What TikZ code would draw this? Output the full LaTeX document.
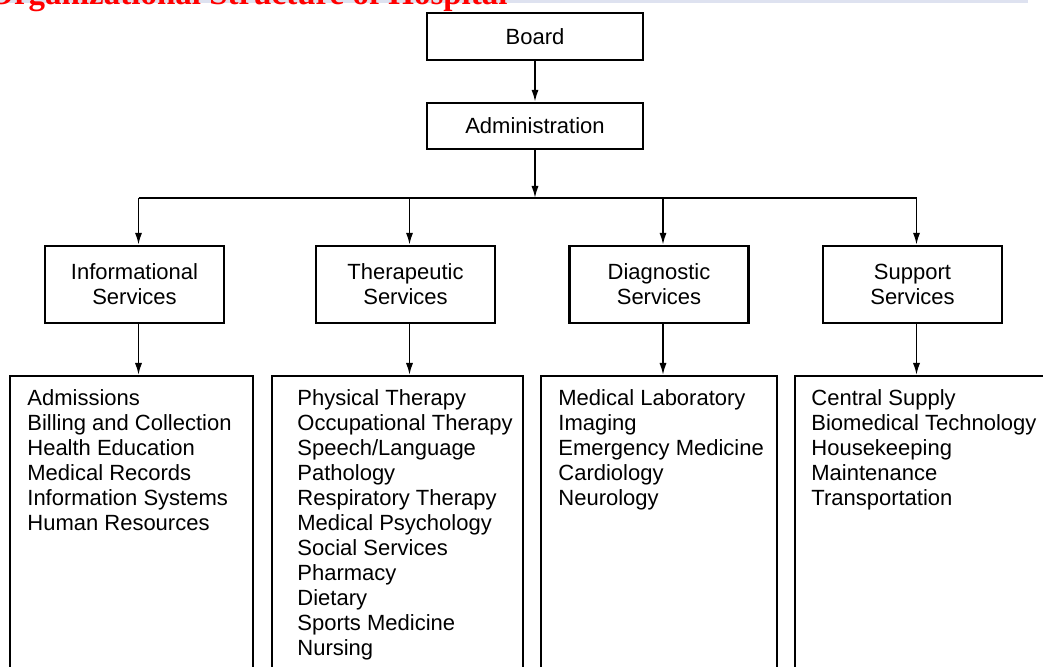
\documentclass[tikz,border=0pt]{standalone}
\usepackage{fontspec}
\setmainfont{Liberation Sans}
\newfontfamily\titlefont{Liberation Serif}
\usetikzlibrary{arrows.meta}
\definecolor{rulecolor}{RGB}{222,226,240}

\begin{document}
\begin{tikzpicture}
  [x=0.5pt,y=-0.5pt,
   box/.style={draw=black,line width=1.2pt,align=center,inner sep=0pt,font=\fontsize{11}{12.5}\selectfont},
   svc/.style={box,minimum width=89.5pt,minimum height=38.5pt},
   listbox/.style={draw=black,line width=1.2pt,anchor=north,minimum height=170pt,inner sep=0pt},
   items/.style={anchor=north west,align=left,inner sep=0pt,font=\fontsize{11}{12.5}\selectfont}]
  \useasboundingbox (0,0) rectangle (1043,667);
  \draw[line width=1.5pt,rulecolor] (0,2) -- (1028,2);
  \node[anchor=base west,inner sep=0pt,text=red,font=\titlefont\bfseries\fontsize{16.5}{18}\selectfont] (title) at (-12,5) {Organizational Structure of Hospital};

  \node[box,minimum width=108pt,minimum height=23.5pt] (board) at (535,36.5) {Board};
  \node[box,minimum width=108pt,minimum height=23pt] (admin) at (535,126) {Administration};
  \coordinate (bus) at (535,198);

  \node[svc] (info) at (134.5,284.5) {Informational\\Services};
  \node[svc] (ther) at (405.5,284.5) {Therapeutic\\Services};
  \node[svc] (diag) at (659,284.5) {Diagnostic\\Services};
  \node[svc] (supp) at (912.5,284.5) {Support\\Services};

  % lists run off the bottom of the page
  \node[listbox,minimum width=121.5pt] (infolist) at (131.5,375) {};
  \node[listbox,minimum width=125.5pt] (therlist) at (397.5,375) {};
  \node[listbox,minimum width=118pt] (diaglist) at (659,375) {};
  \node[listbox,minimum width=137.5pt] (supplist) at (932.5,375) {};

  \node[items] (infoitems) at (27,389) {Admissions\\Billing and Collection\\Health Education\\Medical Records\\Information Systems\\Human Resources};
  \node[items] (theritems) at (297,389) {Physical Therapy\\Occupational Therapy\\Speech/Language\\Pathology\\Respiratory Therapy\\Medical Psychology\\Social Services\\Pharmacy\\Dietary\\Sports Medicine\\Nursing};
  \node[items] (diagitems) at (558,389) {Medical Laboratory\\Imaging\\Emergency Medicine\\Cardiology\\Neurology};
  \node[items] (suppitems) at (811,389) {Central Supply\\Biomedical Technology\\Housekeeping\\Maintenance\\Transportation};

  \draw[line width=0.9pt] ([xshift=2pt]info.north |- bus) -- ([xshift=2pt]supp.north |- bus);
  \begin{scope}[line width=0.9pt,-{Latex[length=6pt,width=3.6pt]}]
    \draw (board) -- (admin);
    \draw (admin) -- (bus);
    \foreach \to in {info,ther,diag,supp}
      \draw ([xshift=2pt]\to.north |- bus) -- ([xshift=2pt]\to.north);
    \foreach \from/\to in {info/infolist,ther/therlist,diag/diaglist,supp/supplist}
      \draw ([xshift=2pt]\from.south) -- ([xshift=2pt]\from.south |- \to.north);
  \end{scope}
\end{tikzpicture}
\end{document}
